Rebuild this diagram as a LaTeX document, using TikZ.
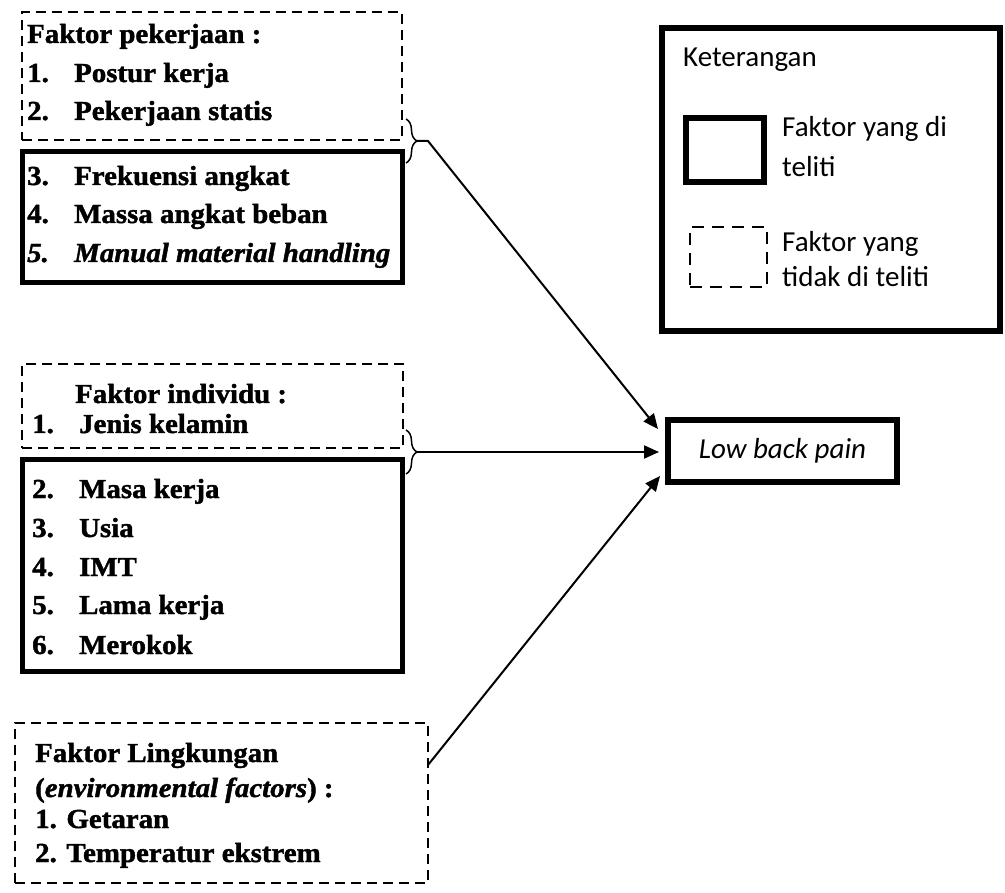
\documentclass[tikz,border=0pt]{standalone}
\usepackage{fontspec}
\setmainfont{Liberation Serif}[FakeStretch=1.05, BoldFeatures={FakeBold=1.5}, BoldItalicFeatures={FakeBold=1.5}]
\newfontfamily\legendfont{Carlito}
\usetikzlibrary{calc,arrows.meta,decorations.pathreplacing}
\newcommand{\itm}[2]{\makebox[47pt][l]{#1}#2}

\begin{document}
\begin{tikzpicture}[
            x=1pt, y=-1pt,
            solidbox/.style={draw, line width=5pt, inner sep=0pt, outer sep=0pt, anchor=north west},
            dashbox/.style={draw, line width=1.8pt, dash pattern=on 10pt off 6pt, inner sep=0pt, outer sep=0pt, anchor=north west},
            item/.style={anchor=base west, inner sep=0pt, font=\bfseries\fontsize{27.5}{32}\selectfont},
            legtext/.style={anchor=base west, inner sep=0pt, font=\legendfont\fontsize{29}{34}\selectfont},
            bracket/.style={decorate, decoration={brace, amplitude=11pt}, line width=1.5pt},
            link/.style={line width=2pt, -{Triangle[length=15pt, width=13pt]}},
        ]
        \useasboundingbox (0,0) rectangle (1005,893);
        % Faktor pekerjaan
        \node[dashbox, minimum width=380pt, minimum height=128pt] (kerjaout) at (22,12) {};
        \node[solidbox, minimum width=380pt, minimum height=131pt] (kerjain) at (22.5,151.5) {};
        \node[item] (kerjahead) at (27,43) {Faktor pekerjaan :};
        \node[item] (kerja1) at (27,82) {\itm{1.}{Postur kerja}};
        \node[item] (kerja2) at (27,120) {\itm{2.}{Pekerjaan statis}};
        \node[item] (kerja3) at (27,185) {\itm{3.}{Frekuensi angkat}};
        \node[item] (kerja4) at (27,223) {\itm{4.}{Massa angkat beban}};
        \node[item] (kerja5) at (27,262) {\itshape\itm{5.}{Manual material handling}};
        % Faktor individu
        \node[dashbox, minimum width=381pt, minimum height=84pt] (indivout) at (22,364) {};
        \node[solidbox, minimum width=380pt, minimum height=211pt] (indivin) at (22.5,460) {};
        \node[item] (indivhead) at (75,403) {Faktor individu :};
        \node[item] (indiv1) at (32,433) {\itm{1.}{Jenis kelamin}};
        \node[item] (indiv2) at (32,498) {\itm{2.}{Masa kerja}};
        \node[item] (indiv3) at (32,537) {\itm{3.}{Usia}};
        \node[item] (indiv4) at (32,576) {\itm{4.}{IMT}};
        \node[item] (indiv5) at (32,614) {\itm{5.}{Lama kerja}};
        \node[item] (indiv6) at (32,654) {\itm{6.}{Merokok}};
        % Faktor lingkungan
        \node[dashbox, minimum width=413pt, minimum height=160pt] (env) at (15,723) {};
        \node[item] (envhead) at (35,762) {Faktor Lingkungan};
        \node[item] (envsub) at (35,797) {(\textit{environmental factors}) :};
        \node[item] (env1) at (35,828) {1. Getaran};
        \node[item] (env2) at (35,862) {2. Temperatur ekstrem};
        % Keterangan
        \node[solidbox, line width=5.5pt, minimum width=338pt, minimum height=303pt] (legend) at (662,28) {};
        \node[legtext] (leghead) at (683,67) {Keterangan};
        \node[solidbox, line width=6pt, minimum width=78pt, minimum height=64pt] (legsolid) at (686,118) {};
        \node[legtext] (legsolid1) at (782,137) {Faktor yang di};
        \node[legtext] (legsolid2) at (782,177) {teliti};
        \node[dashbox, dash pattern=on 12pt off 8pt, minimum width=77pt, minimum height=60pt] (legdash) at (690,227) {};
        \node[legtext] (legdash1) at (782,252) {Faktor yang};
        \node[legtext] (legdash2) at (782,287) {tidak di teliti};
        % Low back pain
        \node[draw, line width=6pt, minimum width=229pt, minimum height=62pt, inner sep=0pt,
              font=\legendfont\itshape\fontsize{29}{34}\selectfont] (lbp) at (782.5,451) {Low back pain};
        % braces and arrows
        \draw[bracket] (406,119) -- (406,163);
        \draw[bracket] (406,430) -- (406,474);
        \coordinate (kerjatip) at (417,141);
        \coordinate (kerjabend) at (428,141);
        \coordinate (indivtip) at (417,452);
        \coordinate (envtop) at (428,765);
        \draw[link] (kerjatip) -- (kerjabend) -- ($(lbp.west)+(-7,-22)$);
        \draw[link] (indivtip) -- ($(lbp.west)+(-6,1)$);
        \draw[link] (envtop) -- ($(lbp.west)+(-5,25)$);
\end{tikzpicture}
\end{document}
